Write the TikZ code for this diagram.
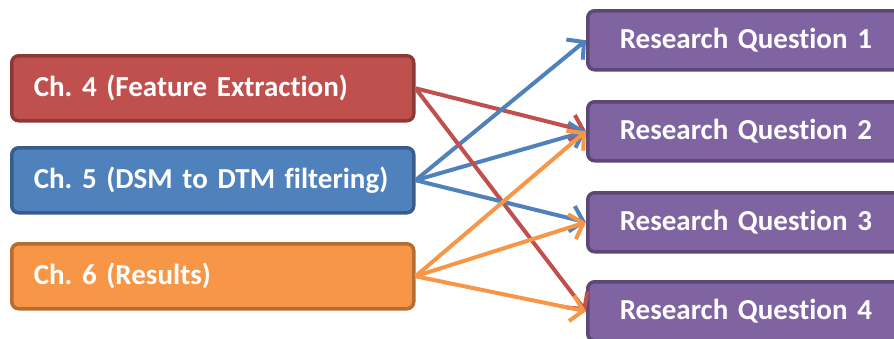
\documentclass[tikz,border=0pt]{standalone}
\usepackage{fontspec}
\setmainfont{Carlito}[Ligatures=NoCommon, WordSpace=0.6]
\usetikzlibrary{arrows.meta}
\frenchspacing
\definecolor{redfill}{HTML}{C0504D}
\definecolor{redline}{HTML}{8C3836}
\definecolor{bluefill}{HTML}{4F81BD}
\definecolor{blueline}{HTML}{385D8A}
\definecolor{orangefill}{HTML}{F79646}
\definecolor{orangeline}{HTML}{B66D31}
\definecolor{purplefill}{HTML}{8064A2}
\definecolor{purpleline}{HTML}{5C4776}
\tikzset{
  box/.style={rectangle, rounded corners=7pt, line width=3.5pt,
    font=\bfseries\fontsize{29}{34}\selectfont, text=white,
    anchor=north west, align=left},
  chapter/.style={box, minimum width=402pt, minimum height=65pt,
    text width=358pt, inner xsep=22pt},
  question/.style={box, draw=purpleline, fill=purplefill,
    minimum width=360pt, minimum height=59pt,
    text width=296pt, inner xsep=32pt},
  link/.style={line width=4pt, -{Straight Barb[length=12pt,width=26pt]}}
}
\begin{document}
\begin{tikzpicture}[x=1pt,y=-1pt]
\useasboundingbox (0,0) rectangle (894,338);
\clip (0,0) rectangle (894,338);
\fill[white] (0,0) rectangle (894,338);

% chapters
\node[chapter, draw=redline, fill=redfill] (c4) at (10,54) {Ch. 4 (Feature Extraction)};
\node[chapter, draw=blueline, fill=bluefill] (c5) at (10,146) {Ch. 5 (DSM to DTM filtering)};
\node[chapter, draw=orangeline, fill=orangefill] (c6) at (10,242) {Ch. 6 (Results)};

% research questions
\node[question] (q1) at (586,9) {Research Question 1};
\node[question] (q2) at (586,100) {Research Question 2};
\node[question] (q3) at (586,191) {Research Question 3};
\node[question] (q4) at (586,280) {Research Question 4};

% links from chapters to questions
\draw[link, redfill] (c4.east) -- (q2.west);
\draw[link, bluefill] (c5.east) -- (q1.west);
\draw[link, bluefill] (c5.east) -- (q2.west);
\draw[link, redfill] (c4.east) -- (q4.west);
\draw[link, bluefill] (c5.east) -- (q3.west);
\draw[link, orangefill] (c6.east) -- (q2.west);
\draw[link, orangefill] (c6.east) -- (q3.west);
\draw[link, orangefill] (c6.east) -- (q4.west);
\end{tikzpicture}
\end{document}
